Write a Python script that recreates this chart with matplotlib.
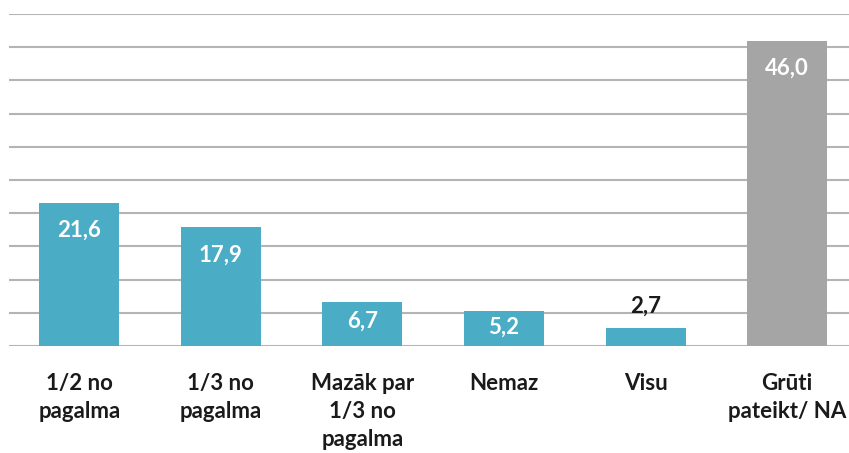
import matplotlib
matplotlib.use("Agg")
import matplotlib.pyplot as plt

categories = ["1/2 no\npagalma", "1/3 no\npagalma", "Mazāk par\n1/3 no\npagalma",
              "Nemaz", "Visu", "Grūti\npateikt/ NA"]
values = [21.6, 17.9, 6.7, 5.2, 2.7, 46.0]
colors = ["#4BACC6"] * 5 + ["#A5A5A5"]

plt.rcParams['font.family'] = ['Lato', 'DejaVu Sans']

fig = plt.figure(figsize=(8.49, 4.53), dpi=100)
# axes runs slightly past the right edge, like the original
ax = fig.add_axes([8.5 / 849, 1 - 346 / 453, 849.5 / 849, (346 - 14) / 453])

x = range(len(values))
bars = ax.bar(x, values, width=0.565, color=colors, zorder=3)

ax.set_ylim(0, 50)
ax.set_xlim(-0.5, len(values) - 0.5)
ax.set_yticks(range(0, 51, 5))
ax.yaxis.grid(True, color="#B4B4B4", linewidth=1.5, zorder=0)
ax.tick_params(axis="y", left=False, labelleft=False)
ax.tick_params(axis="x", bottom=False, pad=16)
ax.set_xticks(list(x))
ax.set_xticklabels(categories, fontsize=16, fontweight="bold", linespacing=1.4,
                   va="top", color="#1a1a1a")
for s in ax.spines.values():
    s.set_visible(False)

for b, v in zip(bars, values):
    txt = f"{v:.1f}".replace(".", ",")
    cx = b.get_x() + b.get_width() / 2
    if v > 5:
        ax.text(cx, max(v - 4.2, v * 0.55), txt, ha="center", va="center",
                color="white", fontsize=16, fontweight="bold", zorder=4)
    else:
        ax.annotate(txt, (cx, v), xytext=(0, 16), textcoords="offset points",
                    ha="center", va="center", color="#1a1a1a", fontsize=16,
                    fontweight="bold", zorder=4)

fig.savefig("out.png", dpi=100)
